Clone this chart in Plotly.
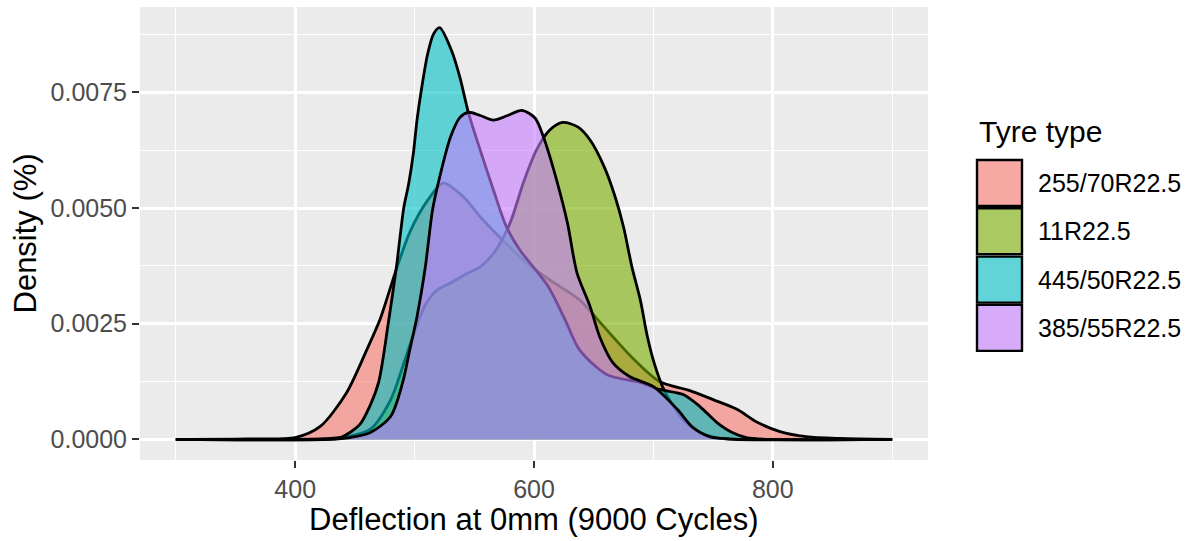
import plotly.graph_objects as go

# ---- data (density curves) ----
tyre_types = ["255/70R22.5", "11R22.5", "445/50R22.5", "385/55R22.5"]
fill_colors = ["#F8766D", "#7CAE00", "#00BFC4", "#C77CFF"]

x_255 = [300, 360, 400, 421, 443, 460, 471, 484, 496, 511, 524, 541, 555, 571, 594,
         613, 638, 655, 666, 684, 705, 730, 750, 770, 787, 806, 828, 856, 900]
y_255 = [0, 0.00001, 0.00004, 0.00028, 0.00101, 0.00194, 0.00259, 0.00362, 0.00448, 0.00517,
         0.00554, 0.00524, 0.00481, 0.00438, 0.00381, 0.00345, 0.00302, 0.00254, 0.00222, 0.00172,
         0.00125, 0.00106, 0.00086, 0.00065, 0.00037, 0.00017, 0.00006, 0.00002, 0]

x_11 = [300, 400, 429, 444, 463, 480, 490, 499, 509, 519, 530, 542, 555, 567, 580, 591, 602,
        613, 624, 637, 647, 659, 668, 675, 682, 689, 695, 701, 708, 716, 726, 739, 752, 768, 900]
y_11 = [0, 0, 0.00002, 0.00006, 0.00022, 0.00086, 0.00157, 0.00226, 0.00291, 0.00323,
        0.00338, 0.00356, 0.00373, 0.00405, 0.00468, 0.00554, 0.00625, 0.00668, 0.00685, 0.00675,
        0.00647, 0.00588, 0.00524, 0.00459, 0.00373, 0.00302, 0.00222, 0.00162, 0.00112, 0.00075,
        0.00039, 0.00015, 0.00004, 0, 0]

x_445 = [300, 420, 438, 454, 463, 470, 478, 485, 488, 491, 495, 499, 502, 506, 511, 516, 521,
         531, 538, 545, 555, 566, 577, 588, 611, 626, 638, 661, 689, 705, 725, 739, 753, 766,
         778, 798, 900]
y_445 = [0, 0, 0.00004, 0.00032, 0.00075, 0.00125, 0.00252, 0.00377, 0.00442, 0.00502,
         0.00552, 0.00619, 0.0069, 0.00761, 0.00834, 0.00877, 0.0089, 0.0084, 0.00782, 0.00707,
         0.00625, 0.00539, 0.00459, 0.0041, 0.00334, 0.00259, 0.00194, 0.0014, 0.00123, 0.00108,
         0.00097, 0.00071, 0.00037, 0.00015, 0.00004, 0, 0]

x_385 = [300, 429, 446, 463, 480, 490, 496, 502, 509, 515, 521, 530, 538, 545, 555, 566, 578,
         590, 601, 608, 619, 628, 636, 647, 655, 666, 680, 700, 720, 733, 747, 758, 772, 900]
y_385 = [0, 0, 0.00004, 0.00015, 0.0005, 0.00123, 0.00194, 0.00265, 0.00373, 0.00496,
         0.00567, 0.00653, 0.00696, 0.00707, 0.007, 0.0069, 0.007, 0.00711, 0.00694, 0.00653,
         0.0056, 0.00468, 0.0036, 0.00287, 0.00222, 0.00166, 0.00136, 0.00114, 0.00065, 0.00026,
         0.00006, 0.00002, 0, 0]

series_x = [x_255, x_11, x_445, x_385]
series_y = [y_255, y_11, y_445, y_385]

x_ticks = [400, 600, 800]
y_ticks = [0, 0.0025, 0.005, 0.0075]
y_tick_text = ["0.0000", "0.0025", "0.0050", "0.0075"]

ALPHA = 0.6
FONT = "Liberation Sans, Arial, sans-serif"

# layout geometry (pixels)
W, H = 1192, 541
L, R, T, B = 140, 264, 7, 81
PW, PH = W - L - R, H - T - B


def rgba(hexc, a):
    hexc = hexc.lstrip("#")
    r, g, b = int(hexc[0:2], 16), int(hexc[2:4], 16), int(hexc[4:6], 16)
    return f"rgba({r},{g},{b},{a})"


def px(xp):
    return (xp - L) / PW


def py(yp):
    return (H - B - yp) / PH


fig = go.Figure()
for name, col, xs, ys in zip(tyre_types, fill_colors, series_x, series_y):
    fig.add_trace(go.Scatter(
        x=xs, y=ys, name=name, mode="lines",
        line=dict(color="black", width=2.8, shape="spline", smoothing=0.8),
        fill="tozeroy", fillcolor=rgba(col, ALPHA),
        showlegend=False, hoverinfo="skip",
    ))

# custom ggplot-like legend
shapes = []
annotations = []
annotations.append(dict(text="Tyre type", x=px(977), y=py(131), xref="paper", yref="paper",
                        xanchor="left", yanchor="middle", showarrow=False,
                        font=dict(family=FONT, size=30, color="black")))
key_top0, key_step, key_h, key_x0, key_x1 = 160, 48.3, 46, 977, 1022
for i, (name, col) in enumerate(zip(tyre_types, fill_colors)):
    t = key_top0 + i * key_step
    shapes.append(dict(type="rect", xref="paper", yref="paper",
                       x0=px(key_x0 - 1), x1=px(key_x1 + 1), y0=py(t + key_h + 1), y1=py(t - 1),
                       fillcolor="#F2F2F2", line=dict(width=0), layer="above"))
    shapes.append(dict(type="rect", xref="paper", yref="paper",
                       x0=px(key_x0), x1=px(key_x1), y0=py(t + key_h), y1=py(t),
                       fillcolor=rgba(col, ALPHA), line=dict(color="black", width=2.4),
                       layer="above"))
    annotations.append(dict(text=name, x=px(1036), y=py(t + key_h / 2), xref="paper",
                            yref="paper", xanchor="left", yanchor="middle", showarrow=False,
                            font=dict(family=FONT, size=25, color="black")))

# axis titles
annotations.append(dict(text="Deflection at 0mm (9000 Cycles)", x=0.5, y=py(519),
                        xref="paper", yref="paper", xanchor="center", yanchor="middle",
                        showarrow=False, font=dict(family=FONT, size=31, color="black")))
annotations.append(dict(text="Density (%)", x=px(25), y=0.5, xref="paper", yref="paper",
                        xanchor="center", yanchor="middle", textangle=-90, showarrow=False,
                        font=dict(family=FONT, size=31, color="black")))

fig.update_layout(
    width=W, height=H,
    margin=dict(l=L, r=R, t=T, b=B),
    paper_bgcolor="white", plot_bgcolor="#EBEBEB",
    showlegend=False,
    shapes=shapes, annotations=annotations,
    font=dict(family=FONT),
)
fig.update_xaxes(
    range=[270, 930], tickvals=x_ticks, ticktext=[str(v) for v in x_ticks],
    showgrid=True, gridcolor="white", gridwidth=2.6, zeroline=False,
    ticks="outside", ticklen=7, tickwidth=2.4, tickcolor="#333333",
    tickfont=dict(family=FONT, size=25, color="#4D4D4D"),
    minor=dict(tickvals=[300, 500, 700, 900], showgrid=True, gridcolor="white",
               gridwidth=1.3, ticks=""),
    showline=False,
)
fig.update_yaxes(
    range=[-0.000445, 0.009345], tickvals=y_ticks, ticktext=y_tick_text,
    showgrid=True, gridcolor="white", gridwidth=2.6, zeroline=False,
    ticks="outside", ticklen=7, tickwidth=2.4, tickcolor="#333333",
    tickfont=dict(family=FONT, size=25, color="#4D4D4D"),
    minor=dict(tickvals=[0.00125, 0.00375, 0.00625, 0.00875], showgrid=True,
               gridcolor="white", gridwidth=1.3, ticks=""),
    showline=False,
)

fig.write_html("out.html")
